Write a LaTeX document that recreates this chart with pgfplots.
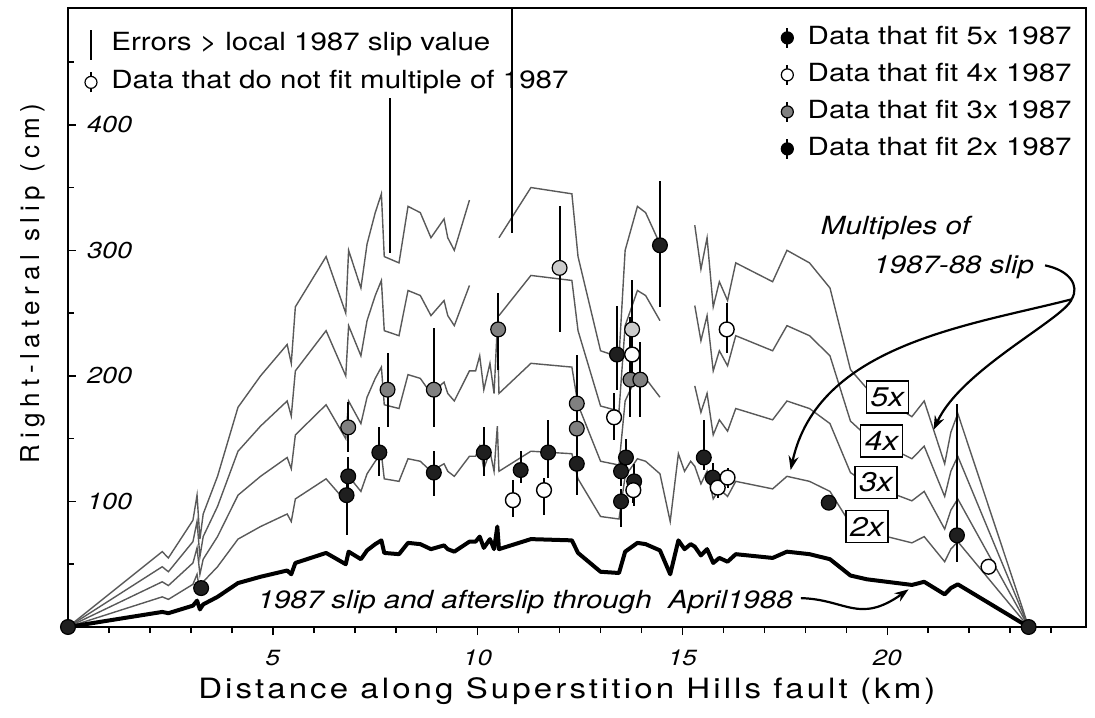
\documentclass[border=0pt]{standalone}
\usepackage{pgfplots}
\pgfplotsset{compat=1.18}
\usepackage{pgfplotstable}
\usepackage{fontspec}
\setmainfont{TeX Gyre Heros}[FakeStretch=1.18]
\newfontfamily\ylabfont{TeX Gyre Heros}[LetterSpace=22]
\usetikzlibrary{arrows.meta}

\pgfplotstableread{
x b m2 m3 m4 m5
0 0 0 0 0 0
2.3 12 24 36 48 60
2.45 11 22 33 44 55
3.05 17 34 51 68 85
3.15 21 42 63 84 105
3.22 14 28 42 56 70
3.3 18 36 54 72 90
3.65 24 48 72 96 120
4.15 35 70 105 140 175
4.7 40 80 120 160 200
5.35 45 90 135 180 225
5.45 42 84 126 168 210
5.55 51 102 153 204 255
6.3 59 118 177 236 295
6.78 50 100 150 200 250
6.85 60 120 180 240 300
7.15 54 108 162 216 270
7.3 61 122 183 244 305
7.5 66 132 198 264 330
7.65 69 138 207 276 345
7.72 59 118 177 236 295
8.08 58 116 174 232 290
8.3 67 134 201 268 335
8.6 66 132 198 264 330
8.86 62 124 186 248 310
9.18 65 130 195 260 325
9.27 62 124 186 248 310
9.43 60 120 180 240 300
9.8 68 136 204 272 340
9.95 68 136 204 nan nan
10.05 72 144 216 nan nan
10.15 63 126 189 nan nan
10.3 70 140 210 nan nan
10.4 62 124 186 nan nan
10.48 80 160 240 nan nan
10.52 62 124 186 248 310
11.3 70 140 210 280 350
12.3 69 138 207 276 345
12.45 59 118 177 236 295
13.0 44 88 132 176 220
13.45 43 86 129 172 215
13.6 60 120 180 240 300
13.9 67 134 201 268 335
14.1 66 132 198 264 330
14.45 61 122 183 244 305
14.7 42 84 nan nan nan
14.9 69 138 nan nan nan
15.05 62 124 nan nan nan
15.2 66 132 nan nan nan
15.3 64 128 192 256 320
15.45 57 114 171 228 285
15.6 62 124 186 248 310
15.75 51 102 153 204 255
15.9 55 110 165 220 275
16.1 52 104 156 208 260
16.3 58 116 174 232 290
17.2 55 110 165 220 275
17.55 60 120 180 240 300
18.1 58 116 174 232 290
18.6 54 108 162 216 270
19.1 41 82 123 164 205
19.5 38 76 114 152 190
20.6 33.5 67 100.5 134 167.5
20.9 36 72 108 144 180
21.4 26 52 78 104 130
21.55 31 62 93 124 155
21.72 34 68 102 136 170
23.45 0 0 0 0 0
}\slip

\pgfplotstableread{
x y ep em
0 0 0 0
23.45 0 0 0
3.25 31 6 5
6.80 105 15 32
6.84 120 15 15
7.60 139 20 19
8.93 123 17 19
10.15 139 20 19
11.05 125 15 10
11.72 139 26 20
12.42 130 28 25
13.40 217 39 28
13.50 100 10 20
13.50 124 12 12
13.62 135 15 15
13.82 116 14 20
14.45 304 51 49
15.52 135 30 10
15.74 119 12 12
18.57 99 0 0
21.70 73 105 21
}\blackpts

\pgfplotstableread{
x y ep em
6.84 159 20 20
7.80 189 29 30
8.93 189 49 30
10.50 237 29 32
12.42 178 39 20
12.42 158 10 10
13.73 197 50 30
13.97 197 30 30
}\graypts

\pgfplotstableread{
x y ep em
12.00 286 49 51
13.77 237 39 20
}\lightpts

\pgfplotstableread{
x y ep em
10.86 101 16 13
11.62 109 10 20
13.33 167 19 18
13.77 217 20 15
13.80 109 10 10
15.86 111 8 8
16.10 119 8 8
16.08 237 21 19
22.47 48 0 0
}\openpts

\begin{document}
\begin{tikzpicture}
\useasboundingbox (-34pt,-45pt) rectangle (513.5pt,313.5pt);
\begin{axis}[
  at={(0,0)}, anchor=south west,
  scale only axis, width=509pt, height=309.5pt,
  xmin=0, xmax=24.85, ymin=0, ymax=493,
  clip=false,
  unbounded coords=jump,
  axis line style={line width=1pt},
  tick pos=left,
  xtick={5,10,15,20},
  minor xtick={1,2,3,4,6,7,8,9,11,12,13,14,16,17,18,19,21,22,23,24},
  ytick={100,200,300,400},
  minor ytick={50,150,250,350,450},
  major tick length=4pt, minor tick length=3pt,
  every tick/.append style={line width=0.8pt, black},
  every major x tick/.append style={yshift=-4pt},
  every minor x tick/.append style={yshift=-3pt},
  /pgf/number format/assume math mode=true,
  xticklabel style={font=\fontsize{11}{13}\selectfont\itshape, yshift=-8pt},
  yticklabel style={font=\fontsize{11.5}{13}\selectfont\itshape, anchor=west, xshift=6pt},
  xlabel={\addfontfeature{LetterSpace=11}Distance along Superstition Hills fault (km)},
  xlabel style={font=\fontsize{14}{16}\selectfont, at={(rel axis cs:0.49,0)}, anchor=north, yshift=-22pt},
  ylabel={\ylabfont Right-lateral slip (cm)},
  ylabel style={font=\fontsize{13}{15}\selectfont, at={(rel axis cs:0,0.555)}, anchor=south, yshift=8pt},
  legend style={at={(rel axis cs:1,1)}, anchor=north east, xshift=-2pt, yshift=-5pt,
    draw=none, fill=none, font=\fontsize{12.5}{15}\selectfont,
    row sep=3pt, cells={anchor=west},
    nodes={text height=9pt, text depth=2.5pt, inner sep=2pt}},
]
% multiples
\addplot[forget plot, black!65, line width=0.7pt] table[x=x,y=m5]{\slip};
\addplot[forget plot, black!65, line width=0.7pt] table[x=x,y=m4]{\slip};
\addplot[forget plot, black!65, line width=0.7pt] table[x=x,y=m3]{\slip};
\addplot[forget plot, black!65, line width=0.7pt] table[x=x,y=m2]{\slip};
% base
\addplot[forget plot, black, line width=2pt, line join=round] table[x=x,y=b]{\slip};
% long error lines
\addplot[forget plot, black, line width=1pt] coordinates {(7.85,298) (7.85,421)};
\addplot[forget plot, black, line width=1pt] coordinates {(10.85,314) (10.85,493)};
% data points
\addplot[forget plot, only marks, mark=*, mark size=3.7pt, mark options={fill=black!88, draw=black, line width=0.6pt},
  error bars/.cd, y dir=both, y explicit, error mark=none, error bar style={line width=1pt, black}]
  table[x=x, y=y, y error plus=ep, y error minus=em]{\blackpts};
\addplot[forget plot, only marks, mark=*, mark size=3.7pt, mark options={fill=black!50, draw=black, line width=0.6pt},
  error bars/.cd, y dir=both, y explicit, error mark=none, error bar style={line width=1pt, black}]
  table[x=x, y=y, y error plus=ep, y error minus=em]{\graypts};
\addplot[forget plot, only marks, mark=*, mark size=3.7pt, mark options={fill=black!20, draw=black, line width=0.6pt},
  error bars/.cd, y dir=both, y explicit, error mark=none, error bar style={line width=1pt, black}]
  table[x=x, y=y, y error plus=ep, y error minus=em]{\lightpts};
\addplot[forget plot, only marks, mark=*, mark size=3.7pt, mark options={fill=white, draw=black, line width=0.7pt},
  error bars/.cd, y dir=both, y explicit, error mark=none, error bar style={line width=1pt, black}]
  table[x=x, y=y, y error plus=ep, y error minus=em]{\openpts};
% legend (right)
\addlegendimage{legend image code/.code={\path (-3pt,0) (8pt,0); \draw[line width=1pt] (0,-5pt)--(0,5pt); \filldraw[draw=black, fill=black, line width=0.6pt] (0,0) circle (3pt);}}
\addlegendentry{Data that fit 5x 1987}
\addlegendimage{legend image code/.code={\path (-3pt,0) (8pt,0); \draw[line width=1pt] (0,-5pt)--(0,5pt); \filldraw[draw=black, fill=white, line width=0.6pt] (0,0) circle (3pt);}}
\addlegendentry{Data that fit 4x 1987}
\addlegendimage{legend image code/.code={\path (-3pt,0) (8pt,0); \draw[line width=1pt] (0,-5pt)--(0,5pt); \filldraw[draw=black, fill=black!50, line width=0.6pt] (0,0) circle (3pt);}}
\addlegendentry{Data that fit 3x 1987}
\addlegendimage{legend image code/.code={\path (-3pt,0) (8pt,0); \draw[line width=1pt] (0,-5pt)--(0,5pt); \filldraw[draw=black, fill=black, line width=0.6pt] (0,0) circle (3pt);}}
\addlegendentry{Data that fit 2x 1987}
% annotations
\node[font=\fontsize{12.5}{15}\selectfont\itshape] at (axis cs:20.2,318) {Multiples of};
\node[font=\fontsize{12.5}{15}\selectfont\itshape] at (axis cs:21.62,287) {1987-88 slip};
\node[font=\fontsize{12.5}{15}\selectfont\itshape] at (axis cs:11.16,20) {1987 slip and afterslip through\ \ April1988};
\node[draw, line width=0.8pt, fill=white, inner sep=0pt, minimum width=21pt, minimum height=16pt,
      font=\fontsize{13.5}{15}\selectfont\itshape] at (axis cs:20.0,183) {5x};
\node[draw, line width=0.8pt, fill=white, inner sep=0pt, minimum width=21pt, minimum height=16pt,
      font=\fontsize{13.5}{15}\selectfont\itshape] at (axis cs:19.86,148) {4x};
\node[draw, line width=0.8pt, fill=white, inner sep=0pt, minimum width=21pt, minimum height=16pt,
      font=\fontsize{13.5}{15}\selectfont\itshape] at (axis cs:19.72,115) {3x};
\node[draw, line width=0.8pt, fill=white, inner sep=0pt, minimum width=21pt, minimum height=16pt,
      font=\fontsize{13.5}{15}\selectfont\itshape] at (axis cs:19.5,80) {2x};
\draw[line width=1.1pt] (axis cs:23.85,288) .. controls (axis cs:24.45,284) and (axis cs:24.7,272) .. (axis cs:24.5,261);
\draw[line width=1.1pt, -{Stealth[length=7pt, width=5pt]}] (axis cs:24.5,261) .. controls (axis cs:22,240) and (axis cs:18.3,225) .. (axis cs:17.64,125);
\draw[line width=1.1pt, -{Stealth[length=7pt, width=5pt]}] (axis cs:24.5,261) .. controls (axis cs:24.3,245) and (axis cs:21.8,205) .. (axis cs:21.13,157);
\draw[line width=1.1pt, -{Stealth[length=7pt, width=5pt]}] (axis cs:17.89,23) .. controls (axis cs:19.0,22) and (axis cs:19.3,2) .. (axis cs:20.52,30);
\end{axis}
% left legend
\begin{axis}[
  at={(0,0)}, anchor=south west,
  scale only axis, width=509pt, height=309.5pt,
  xmin=0, xmax=24.85, ymin=0, ymax=493, hide axis,
  legend style={at={(rel axis cs:0,1)}, anchor=north west, xshift=5pt, yshift=-8pt,
    draw=none, fill=none, font=\fontsize{12.5}{15}\selectfont,
    row sep=3pt, cells={anchor=west},
    nodes={text height=9pt, text depth=2.5pt, inner sep=2pt}},
]
\addplot[draw=none, forget plot] coordinates {(1,1)};
\addlegendimage{legend image code/.code={\path (-3pt,0) (8pt,0); \draw[line width=1pt] (0,-8pt)--(0,7pt);}}
\addlegendentry{Errors > local 1987 slip value}
\addlegendimage{legend image code/.code={\path (-3pt,0) (8pt,0); \draw[line width=1pt] (0,-5pt)--(0,5pt); \filldraw[draw=black, fill=white, line width=0.6pt] (0,0) circle (3pt);}}
\addlegendentry{Data that do not fit multiple of 1987}
\end{axis}
\end{tikzpicture}
\end{document}
